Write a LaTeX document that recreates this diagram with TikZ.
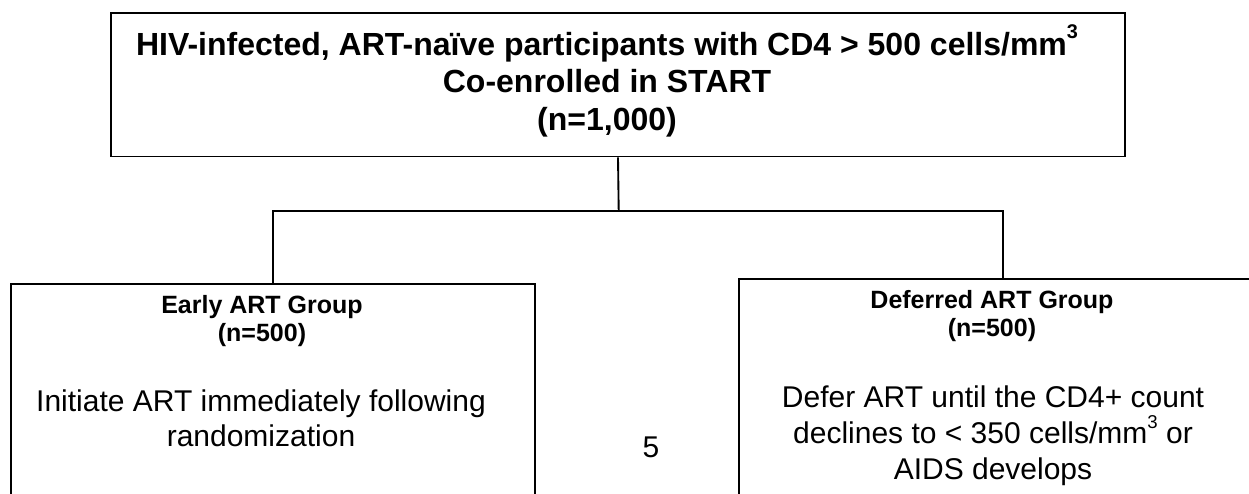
\documentclass[tikz,border=0pt]{standalone}
\usepackage{fontspec}
\setmainfont{Liberation Sans}
\newcommand\mysupr[1]{\raisebox{0.52em}{\scalebox{0.62}{#1}}}
\begin{document}
\begin{tikzpicture}[x=0.75pt,y=-0.75pt,
  boxnode/.style={draw=black,line width=1.4pt,rectangle,inner sep=0pt},
  conn/.style={draw=black,line width=1.4pt},
  titletxt/.style={align=center,inner sep=0pt,font=\bfseries\fontsize{24}{28}\selectfont},
  headtxt/.style={align=center,inner sep=0pt,font=\bfseries\fontsize{18.75}{20.5}\selectfont},
  bodytxt/.style={align=center,inner sep=0pt,font=\fontsize{22.5}{26.5}\selectfont}]
\clip (0,0) rectangle (1249,493);
\fill[white] (0,0) rectangle (1249,493);
% boxes
\node[boxnode,minimum width=1014pt*0.75,minimum height=143.5pt*0.75] (top) at (618,84.75) {};
\node[boxnode,minimum width=524.3pt*0.75,minimum height=260pt*0.75] (left) at (272.9,414.3) {};
\node[boxnode,minimum width=528pt*0.75,minimum height=260pt*0.75] (right) at (1003,409.3) {};
% texts
\node[titletxt] (ttop) at (607,81) {HIV-infected, ART-naïve participants with CD4 > 500 cells/mm\mysupr{3}\\Co-enrolled in START\\(n=1,000)};
\node[headtxt] (hleft) at (262,321) {Early ART Group\\(n=500)};
\node[bodytxt] (bleft) at (261,418) {Initiate ART immediately following\\randomization};
\node[headtxt] (hright) at (992,316) {Deferred ART Group\\(n=500)};
\node[bodytxt,font=\fontsize{22.5}{27}\selectfont] (bright) at (993,436) {Defer ART until the CD4+ count\\declines to < 350 cells/mm\mysupr{3} or\\AIDS develops};
\node[bodytxt] (pnum) at (651,447) {5};
% connectors
\coordinate (jn) at (618.7,210.7);
\draw[conn] (top.south) -- (jn);
\draw[conn] (left.north) |- (jn) -| (right.north);
\end{tikzpicture}
\end{document}
